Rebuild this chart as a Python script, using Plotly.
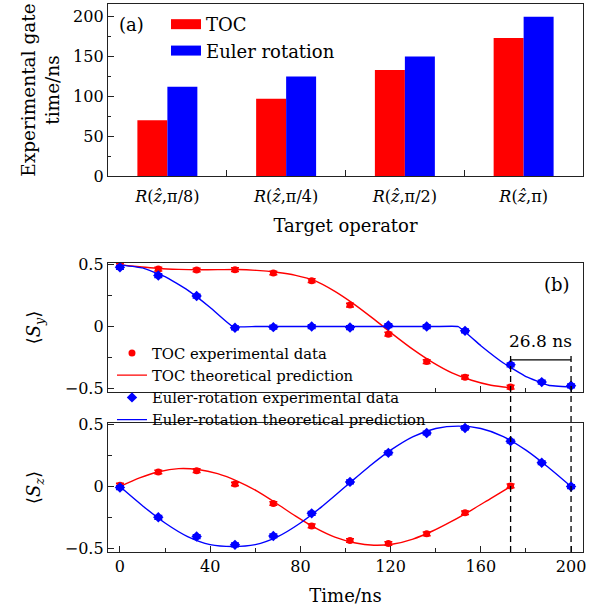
import plotly.graph_objects as go

# ---------------- data ----------------
GATES = ["<i>R</i>(<i>ẑ</i>,π/8)", "<i>R</i>(<i>ẑ</i>,π/4)", "<i>R</i>(<i>ẑ</i>,π/2)", "<i>R</i>(<i>ẑ</i>,π)"]
TOC_GATE_TIME = [70, 97, 133, 173.2]
EULER_GATE_TIME = [112, 125, 150, 200]

TOC_T = [0, 17, 34, 51, 68, 85, 102, 119, 136, 153, 173.2]
TOC_SY = [0.496, 0.466, 0.458, 0.461, 0.434, 0.372, 0.174, -0.062, -0.284, -0.41, -0.49]
TOC_SZ = [0.011, 0.118, 0.129, 0.021, -0.137, -0.319, -0.437, -0.461, -0.383, -0.212, 0.005]

EUL_T = [0, 17, 34, 51, 68, 85, 102, 119, 136, 153, 173.2, 187, 200]
EUL_SY = [0.48, 0.413, 0.247, -0.01, -0.005, 0.0, -0.008, 0.008, 0.0, -0.035, -0.31, -0.45, -0.48]
EUL_SZ = [-0.008, -0.249, -0.405, -0.472, -0.40, -0.217, 0.038, 0.273, 0.434, 0.475, 0.367, 0.193, 0.0]
ERR = 0.015

TOC_TT = [0, 8.7, 17.3, 26.0, 34.6, 43.3, 52.0, 60.6, 69.3, 77.9, 86.6, 95.3, 103.9, 112.6, 121.2, 129.9, 138.6, 147.2, 155.9, 164.5, 173.2]
TOC_SY_TH = [0.5, 0.485, 0.47, 0.463, 0.46, 0.461, 0.462, 0.455, 0.44, 0.415, 0.37, 0.285, 0.18, 0.06, -0.065, -0.185, -0.29, -0.375, -0.435, -0.475, -0.495]
TOC_SZ_TH = [0.0, 0.07, 0.12, 0.145, 0.138, 0.105, 0.045, -0.035, -0.135, -0.24, -0.335, -0.41, -0.455, -0.475, -0.465, -0.425, -0.36, -0.28, -0.19, -0.095, 0.0]

EUL_TT = [0, 10, 20, 30, 40, 50, 60, 70, 80, 90, 100, 110, 120, 130, 140, 150, 160, 170, 180, 190, 200]
EUL_SY_TH = [0.5, 0.475, 0.405, 0.295, 0.155, 0.0, 0.0, 0.0, 0.0, 0.0, 0.0, 0.0, 0.0, 0.0, 0.0, 0.0, -0.155, -0.295, -0.405, -0.475, -0.49]
EUL_SZ_TH = [0.0, -0.155, -0.295, -0.405, -0.47, -0.485, -0.47, -0.405, -0.295, -0.155, 0.0, 0.155, 0.295, 0.405, 0.47, 0.49, 0.47, 0.405, 0.295, 0.155, 0.0]

RED = "#ff0000"
BLUE = "#0000ff"
AX = "#222222"
FONT = "DejaVu Serif"

fig = go.Figure()

# ---------------- (a) bars ----------------
fig.add_trace(go.Bar(x=GATES, y=TOC_GATE_TIME, marker=dict(color=RED, line=dict(width=0)),
                     name="TOC", showlegend=False, xaxis="x", yaxis="y"))
fig.add_trace(go.Bar(x=GATES, y=EULER_GATE_TIME, marker=dict(color=BLUE, line=dict(width=0)),
                     name="Euler rotation", showlegend=False, xaxis="x", yaxis="y"))
# legend keys for (a)
fig.add_trace(go.Scatter(x=[None], y=[None], mode="lines", line=dict(color=RED, width=11),
                         name="TOC", legend="legend2", xaxis="x", yaxis="y", hoverinfo="skip"))
fig.add_trace(go.Scatter(x=[None], y=[None], mode="lines", line=dict(color=BLUE, width=11),
                         name="Euler rotation", legend="legend2", xaxis="x", yaxis="y", hoverinfo="skip"))

# ---------------- (b) curves ----------------
for (xa, ya, toc_y, toc_th, eul_y, eul_th, eul_smooth, show) in [
    ("x2", "y2", TOC_SY, TOC_SY_TH, EUL_SY, EUL_SY_TH, 0.3, True),
    ("x3", "y3", TOC_SZ, TOC_SZ_TH, EUL_SZ, EUL_SZ_TH, 1.0, False),
]:
    fig.add_trace(go.Scatter(x=TOC_TT, y=toc_th, mode="lines", line=dict(color=RED, width=1.4, shape="spline", smoothing=0.8),
                             name="TOC theoretical prediction", showlegend=show, legendrank=2,
                             xaxis=xa, yaxis=ya))
    fig.add_trace(go.Scatter(x=EUL_TT, y=eul_th, mode="lines",
                             line=dict(color=BLUE, width=1.4, shape="spline", smoothing=eul_smooth),
                             name="Euler-rotation theoretical prediction", showlegend=show, legendrank=4,
                             xaxis=xa, yaxis=ya))
    fig.add_trace(go.Scatter(x=TOC_T, y=toc_y, mode="markers",
                             marker=dict(color=RED, size=7, symbol="circle"),
                             error_y=dict(type="constant", value=ERR, color=RED, thickness=1.5, width=4),
                             name="TOC experimental data", showlegend=show, legendrank=1,
                             xaxis=xa, yaxis=ya))
    fig.add_trace(go.Scatter(x=EUL_T, y=eul_y, mode="markers",
                             marker=dict(color=BLUE, size=8, symbol="diamond"),
                             error_y=dict(type="constant", value=ERR, color=BLUE, thickness=1.5, width=4),
                             name="Euler-rotation experimental data", showlegend=show, legendrank=3,
                             xaxis=xa, yaxis=ya))

axis_common = dict(showline=True, linecolor=AX, linewidth=1.3, mirror=True, ticks="inside",
                   ticklen=6, tickwidth=1.2, tickcolor=AX, showgrid=False, zeroline=False,
                   automargin=False,
                   tickfont=dict(size=16, family=FONT, color="black"))

X_RANGE = [-5.3, 205.3]
Y_RANGE = [-0.53, 0.515]
LEG_END_T = 136.1   # time where the legend block ends (frame lines hidden before it)
LEG_START_T = -2.2

t_toc = TOC_T[-1]
t_eul = EUL_T[-1]
shapes = [
    # hide the frame lines behind the legend block
    dict(type="rect", xref="x2", yref="y2", x0=LEG_START_T, x1=LEG_END_T, y0=-0.545, y1=-0.47,
         fillcolor="white", line=dict(width=0), layer="above"),
    dict(type="rect", xref="x3", yref="y3", x0=LEG_START_T, x1=LEG_END_T, y0=0.508, y1=0.54,
         fillcolor="white", line=dict(width=0), layer="above"),
    # time-difference marker
    dict(type="line", xref="x3", yref="paper", x0=t_toc, x1=t_toc, y0=0, y1=0.363,
         line=dict(color="black", width=1.3, dash="6px,4px")),
    dict(type="line", xref="x3", yref="paper", x0=t_eul, x1=t_eul, y0=0, y1=0.363,
         line=dict(color="black", width=1.3, dash="6px,4px")),
    dict(type="line", xref="x2", yref="y2", x0=t_toc, x1=t_eul, y0=-0.27, y1=-0.27,
         line=dict(color="black", width=1.3)),
]
annotations = [
    dict(text="(a)", xref="paper", yref="paper", x=0.0505, y=0.9617, xanchor="center", yanchor="middle",
         showarrow=False, font=dict(size=18, family=FONT, color="black")),
    dict(text="(b)", xref="paper", yref="paper", x=0.9453, y=0.489, xanchor="center", yanchor="middle",
         showarrow=False, font=dict(size=18, family=FONT, color="black")),
    dict(text=f"{t_eul - t_toc:.1f} ns", xref="x2", yref="y2", x=(t_toc + t_eul) / 2, y=-0.12,
         xanchor="center", yanchor="middle",
         showarrow=False, font=dict(size=17, family=FONT, color="black")),
]

fig.update_layout(
    width=591, height=608,
    margin=dict(l=108, r=8, t=4, b=56, autoexpand=False),
    paper_bgcolor="white", plot_bgcolor="white",
    font=dict(family=FONT, size=16, color="black"),
    barmode="group", bargap=0.495, bargroupgap=0,
    xaxis=dict(axis_common, type="category", tickson="boundaries", range=[-0.5, 3.5],
               domain=[0, 1], anchor="y", ticklabelstandoff=6,
               title=dict(text="Target operator", font=dict(size=18), standoff=14)),
    yaxis=dict(axis_common, domain=[0.6861, 1], range=[0, 216], dtick=50, anchor="x",
               minor=dict(dtick=25, ticks="inside", ticklen=3, tickcolor=AX),
               title=dict(text="Experimental gate<br>time/ns", font=dict(size=18.5), standoff=8)),
    xaxis2=dict(axis_common, domain=[0, 1], anchor="y2", range=X_RANGE, dtick=40,
                showticklabels=False, matches="x3",
                minor=dict(dtick=20, ticks="inside", ticklen=4, tickcolor=AX)),
    yaxis2=dict(axis_common, domain=[0.2920, 0.5274], anchor="x2", range=Y_RANGE,
                dtick=0.5, tick0=0,
                minor=dict(dtick=0.25, ticks="inside", ticklen=4, tickcolor=AX),
                title=dict(text="⟨<i>S</i><sub><i>y</i></sub>⟩", font=dict(size=18), standoff=19)),
    xaxis3=dict(axis_common, domain=[0, 1], anchor="y3", range=X_RANGE, dtick=40,
                minor=dict(dtick=20, ticks="inside", ticklen=4, tickcolor=AX),
                title=dict(text="Time/ns", font=dict(size=18), standoff=14)),
    yaxis3=dict(axis_common, domain=[0, 0.2354], anchor="x3", range=Y_RANGE,
                dtick=0.5, tick0=0,
                minor=dict(dtick=0.25, ticks="inside", ticklen=4, tickcolor=AX),
                title=dict(text="⟨<i>S</i><sub><i>z</i></sub>⟩", font=dict(size=18), standoff=19)),
    legend=dict(x=0.0084, y=0.3927, xanchor="left", yanchor="top", bgcolor="rgba(0,0,0,0)",
                borderwidth=0, font=dict(size=14.8, family=FONT, color="black"),
                tracegroupgap=0, traceorder="normal"),
    legend2=dict(x=0.1221, y=0.9964, xanchor="left", yanchor="top", bgcolor="rgba(0,0,0,0)",
                 borderwidth=0, font=dict(size=18, family=FONT, color="black"),
                 tracegroupgap=0, traceorder="normal"),
    shapes=shapes,
    annotations=annotations,
)

fig.write_html("out.html")
